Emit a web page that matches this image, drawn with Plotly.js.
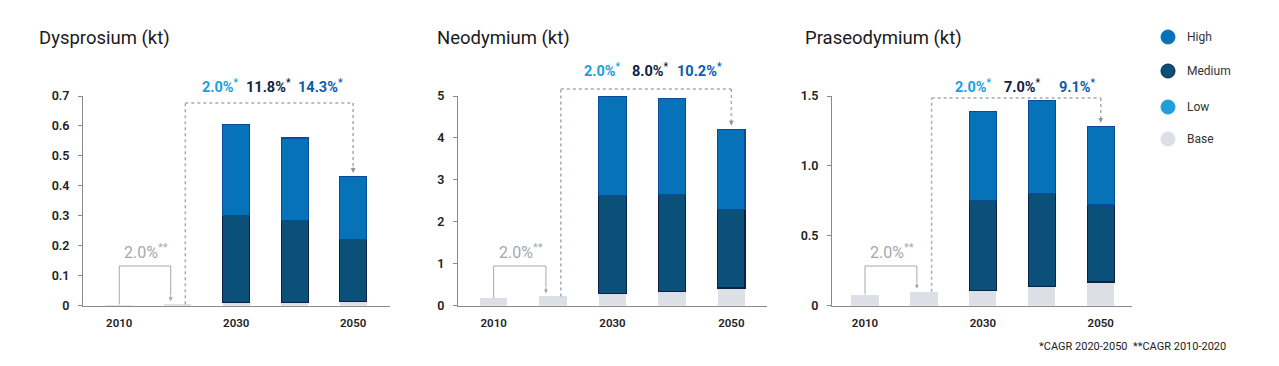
<!DOCTYPE html>
<html><head><meta charset="utf-8">
<script src="https://cdn.plot.ly/plotly-3.0.1.min.js"></script>
<style>html,body{margin:0;padding:0;background:#fff}#chart{width:1279px;height:366px}</style>
</head><body><div id="chart"></div>
<script>
// ---------- data ----------
const years = ['2010','2020','2030','2040','2050'];
const labeledYears = ['2010','2030','2050'];
const seriesNames = ['Base','Low','Medium','High'];
const panelTitles = ['Dysprosium (kt)','Neodymium (kt)','Praseodymium (kt)'];

const dyBase   = [0.004, 0.005, 0.010, 0.012, 0.015];
const dyLow    = [0, 0, 0, 0, 0];
const dyMedium = [0, 0, 0.290, 0.273, 0.205];
const dyHigh   = [0, 0, 0.305, 0.275, 0.210];

const ndBase   = [0.18, 0.22, 0.30, 0.33, 0.42];
const ndLow    = [0, 0, 0, 0, 0];
const ndMedium = [0, 0, 2.32, 2.32, 1.88];
const ndHigh   = [0, 0, 2.36, 2.30, 1.90];

const prBase   = [0.08, 0.10, 0.11, 0.14, 0.17];
const prLow    = [0, 0, 0, 0, 0];
const prMedium = [0, 0, 0.64, 0.66, 0.55];
const prHigh   = [0, 0, 0.64, 0.67, 0.56];

const cagrBase   = ['2.0%', '2.0%', '2.0%'];
const cagrLow    = ['2.0%', '2.0%', '2.0%'];
const cagrMedium = ['11.8%', '8.0%', '7.0%'];
const cagrHigh   = ['14.3%', '10.2%', '9.1%'];

const yTickVals  = [[0,0.1,0.2,0.3,0.4,0.5,0.6,0.7],[0,1,2,3,4,5],[0,0.5,1,1.5]];
const yTickText  = [['0','0.1','0.2','0.3','0.4','0.5','0.6','0.7'],['0','1','2','3','4','5'],['0','0.5','1.0','1.5']];
const footnote = '*CAGR 2020-2050  **CAGR 2010-2020';

// ---------- styling / layout ----------
const W = 1279, H = 366;
const colors = {Base:'#dcdfe6', Low:'#1e9fdc', Medium:'#0a5078', High:'#0672b8'};
const lineColors = {Base:'#dcdfe6', Low:'#1e9fdc', Medium:'#0b2148', High:'#0b4a99'};
const panels = [
  {base:dyBase, low:dyLow, medium:dyMedium, high:dyHigh},
  {base:ndBase, low:ndLow, medium:ndMedium, high:ndHigh},
  {base:prBase, low:prLow, medium:prMedium, high:prHigh}
];
const xPx = [[83,390],[458,767],[832,1132]];
const xRanges = [[-0.62,4.63],[-0.6,4.6],[-0.56,4.53]];
const yMax = [0.7, 5, 1.5];
const yDom = [60.3/H, 270/H];
const titleX = [37, 435, 803];
const pctX = [[220,268,320],[602,650,699],[973,1023,1077]];
const pctY = [86, 70, 86];
const dottedTopPx = [103, 89, 98];
const dottedLeftX = 1.13;
const font = 'Roboto, "Open Sans", Arial, sans-serif';

function yPaper(k, v){ return yDom[0] + v / yMax[k] * (yDom[1]-yDom[0]); }
function pxY(py){ return (H - py) / H; }

const data = [];
const layout = {
  width: W, height: H, autosize:false,
  margin:{l:0,r:0,t:0,b:0},
  paper_bgcolor:'#fff', plot_bgcolor:'#fff',
  barmode:'stack', bargap:0.54, showlegend:false,
  font:{family:font, color:'#222'},
  annotations:[], shapes:[]
};

panels.forEach((p,k)=>{
  const sx = k===0 ? '' : String(k+1);
  const vals = {Base:p.base, Low:p.low, Medium:p.medium, High:p.high};
  seriesNames.forEach(name=>{
    const outlined = (name==='Medium'||name==='High');
    data.push({
      type:'bar', name:name, x:years, y:vals[name],
      xaxis:'x'+sx, yaxis:'y'+sx,
      marker:{color:colors[name], line:{color:lineColors[name],
        width: vals[name].map(v => (outlined && v>0) ? 1.2 : 0)}},
      hoverinfo:'skip'
    });
  });
  layout['xaxis'+sx] = {
    domain:[xPx[k][0]/W, xPx[k][1]/W], anchor:'y'+sx, type:'category',
    range:xRanges[k], tickvals:labeledYears, ticktext:labeledYears,
    showline:true, linecolor:'#8a8a8a', linewidth:1.2, ticks:'', showgrid:false, zeroline:false,
    ticklabelstandoff:6,
    tickfont:{family:font, size:11.5, color:'#222', weight:600}, fixedrange:true
  };
  layout['yaxis'+sx] = {
    domain:yDom, anchor:'x'+sx, range:[0,yMax[k]],
    tickvals:yTickVals[k], ticktext:yTickText[k],
    showline:true, linecolor:'#8a8a8a', linewidth:1, ticks:'outside', ticklen:4, tickcolor:'#8a8a8a',
    showgrid:false, zeroline:false, ticklabelstandoff:6,
    tickfont:{family:font, size:12.5, color:'#222', weight:600}, fixedrange:true
  };
  // panel title
  layout.annotations.push({xref:'paper', yref:'paper', x:titleX[k]/W, y:pxY(38), xanchor:'left', yanchor:'middle',
    text:panelTitles[k], showarrow:false, font:{family:font, size:18.5, color:'#1a1a1a'}});
  // CAGR labels (2020-2050)
  const pcts = [[cagrLow[k], colors.Low],[cagrMedium[k], '#0c2445'],[cagrHigh[k], '#0b5cad']];
  pcts.forEach((pc,i)=>{
    layout.annotations.push({xref:'paper', yref:'paper', x:pctX[k][i]/W, y:pxY(pctY[k]), xanchor:'center', yanchor:'middle',
      text:pc[0]+'<sup>*</sup>', showarrow:false, font:{family:font, size:14.5, color:pc[1], weight:700}});
  });
  // dotted bracket 2020 -> 2050
  const xa = 'x'+sx;
  const topY = pxY(dottedTopPx[k]);
  const b2 = yPaper(k, p.base[1]);
  const t5 = yPaper(k, p.base[4]+p.low[4]+p.medium[4]+p.high[4]);
  const dotLine = {color:'#a3acb8', width:1.5, dash:'dot'};
  layout.shapes.push({type:'line', xref:xa, yref:'paper', x0:dottedLeftX, x1:dottedLeftX, y0:b2, y1:topY, line:dotLine});
  layout.shapes.push({type:'line', xref:xa, yref:'paper', x0:dottedLeftX, x1:4, y0:topY, y1:topY, line:dotLine});
  layout.shapes.push({type:'line', xref:xa, yref:'paper', x0:4, x1:4, y0:topY, y1:t5+10/H, line:dotLine});
  layout.annotations.push({xref:xa, yref:'paper', x:4, y:t5+4/H, ax:0, ay:-7, showarrow:true,
    arrowhead:2, arrowsize:0.8, arrowwidth:1.2, arrowcolor:'#8a96a4', text:''});
  // gray bracket 2010 -> 2020
  const grey = {color:'#a4a8ae', width:1};
  const bTop = pxY(266);
  const b1 = yPaper(k, p.base[0]);
  layout.shapes.push({type:'line', xref:xa, yref:'paper', x0:0, x1:0, y0:b1, y1:bTop, line:grey});
  layout.shapes.push({type:'line', xref:xa, yref:'paper', x0:0, x1:0.88, y0:bTop, y1:bTop, line:grey});
  layout.shapes.push({type:'line', xref:xa, yref:'paper', x0:0.88, x1:0.88, y0:bTop, y1:b2+9/H, line:grey});
  layout.annotations.push({xref:xa, yref:'paper', x:0.88, y:b2+3/H, ax:0, ay:-7, showarrow:true,
    arrowhead:2, arrowsize:0.8, arrowwidth:1, arrowcolor:'#a4a8ae', text:''});
  layout.annotations.push({xref:xa, yref:'paper', x:0.46, y:pxY(251), xanchor:'center', yanchor:'middle',
    text:cagrBase[k]+'<sup>**</sup>', showarrow:false, font:{family:font, size:16, color:'#a4a8ae'}});
});

// legend (custom circles)
const legendOrder = ['High','Medium','Low','Base'];
const legendY = [37, 71, 107, 139];
legendOrder.forEach((name,i)=>{
  layout.shapes.push({type:'circle', xref:'paper', yref:'paper', xsizemode:'pixel', ysizemode:'pixel',
    xanchor:1168/W, yanchor:pxY(legendY[i]), x0:-7, x1:7, y0:-7, y1:7,
    fillcolor:colors[name], line:{color: name==='Medium' ? '#0b2148' : colors[name], width:1}});
  layout.annotations.push({xref:'paper', yref:'paper', x:1185/W, y:pxY(legendY[i]), xanchor:'left', yanchor:'middle',
    text:name, showarrow:false, font:{family:font, size:12, color:'#333'}});
});
// footnote
layout.annotations.push({xref:'paper', yref:'paper', x:1228/W, y:pxY(346), xanchor:'right', yanchor:'middle',
  text:footnote, showarrow:false, font:{family:font, size:11, color:'#222'}});

Plotly.newPlot('chart', data, layout, {staticPlot:true, displayModeBar:false});
</script></body></html>
